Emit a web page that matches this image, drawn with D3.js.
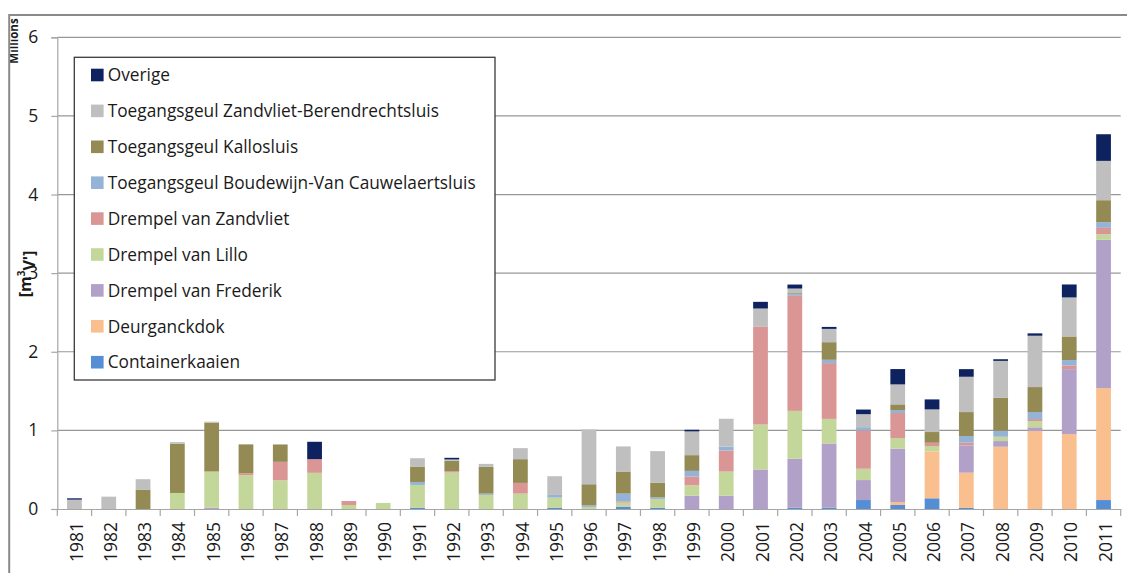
<!DOCTYPE html>
<html>
<head>
<meta charset="utf-8">
<script src="https://cdn.jsdelivr.net/npm/d3@7"></script>
<style>
  html, body { margin: 0; padding: 0; background: #fff; }
  svg { display: block; }
  text { font-family: "Open Sans", "Noto Sans", sans-serif; fill: #1a1a1a; }
</style>
</head>
<body>
<svg id="chart" width="1127" height="573"></svg>
<script>
// ---- data (millions m³ per year) ----
const years = ["1981","1982","1983","1984","1985","1986","1987","1988","1989","1990",
               "1991","1992","1993","1994","1995","1996","1997","1998","1999","2000",
               "2001","2002","2003","2004","2005","2006","2007","2008","2009","2010","2011"];

const containerkaaien = [0,0,0,0,0,0,0,0,0,0, 0.017,0,0,0,0.017,0,0.03,0.017,0,0, 0,0.017,0.017,0.114,0.051,0.136,0.017,0,0,0, 0.114];
const deurganckdok    = [0,0,0,0,0,0,0,0,0,0, 0,0,0,0,0,0,0,0,0,0, 0,0,0,0,0.038,0.597,0.445,0.792,0.992,0.953, 1.424];
const frederik        = [0,0,0,0,0.017,0,0,0,0,0, 0,0,0,0,0,0,0,0,0.17,0.17, 0.503,0.622,0.816,0.254,0.678,0,0.347,0.072,0.047,0.826, 1.886];
const lillo           = [0,0,0,0.204,0.46,0.43,0.366,0.46,0.051,0.077, 0.289,0.464,0.179,0.196,0.128,0.026,0.051,0.111,0.132,0.306, 0.571,0.609,0.313,0.144,0.136,0.068,0,0.055,0.08,0, 0.072];
const zandvliet       = [0,0,0,0,0,0.026,0.234,0.174,0.051,0, 0,0.017,0,0.136,0,0,0.017,0,0.111,0.268, 1.243,1.463,0.71,0.487,0.318,0.042,0.034,0,0.025,0.047, 0.08];
const boudewijn       = [0,0,0,0,0,0,0,0,0,0, 0.038,0,0.017,0,0.034,0.021,0.098,0.021,0.072,0.051, 0,0.021,0.042,0.042,0.038,0,0.085,0.076,0.089,0.068, 0.072];
const kallosluis      = [0,0,0.247,0.626,0.621,0.366,0.221,0,0,0, 0.191,0.132,0.34,0.302,0,0.268,0.281,0.183,0.2,0, 0,0.013,0.224,0,0.072,0.136,0.305,0.419,0.318,0.301, 0.28];
const zandvlietBerendrecht = [0.119,0.157,0.132,0.021,0.013,0,0,0,0,0, 0.111,0.017,0.038,0.14,0.238,0.698,0.319,0.404,0.302,0.353, 0.233,0.059,0.169,0.165,0.254,0.288,0.449,0.47,0.653,0.496, 0.5];
const overige         = [0.017,0,0,0,0,0,0,0.221,0,0, 0,0.021,0,0,0,0,0,0,0.021,0, 0.085,0.051,0.025,0.059,0.195,0.127,0.097,0.021,0.03,0.165, 0.339];

const seriesNames = ["Containerkaaien","Deurganckdok","Drempel van Frederik","Drempel van Lillo",
  "Drempel van Zandvliet","Toegangsgeul Boudewijn-Van Cauwelaertsluis","Toegangsgeul Kallosluis",
  "Toegangsgeul Zandvliet-Berendrechtsluis","Overige"];
const seriesValues = [containerkaaien, deurganckdok, frederik, lillo, zandvliet, boudewijn, kallosluis, zandvlietBerendrecht, overige];
const seriesColors = ["#558ed5","#fabf8f","#b1a0c7","#c4d79b","#da9694","#95b3d7","#948a54","#bfbfbf","#0f2260"];
const yTicks = [0,1,2,3,4,5,6];

(function () {
// ---- build table ----
const table = years.map((yr, i) => {
  const row = { year: yr };
  seriesNames.forEach((n, s) => row[n] = seriesValues[s][i]);
  return row;
});
const stacked = d3.stack().keys(seriesNames)(table);

const svg = d3.select("#chart");
const pL = 57.3, pR = 1120.7, pT = 37.3, pB = 509;

const x = d3.scaleBand().domain(years).range([pL, pR]).paddingInner(0).paddingOuter(0);
const y = d3.scaleLinear().domain([0, 6]).range([pB, pT]);
const bw = x.bandwidth() * 0.43;

// outer frame
svg.append("rect").attr("x", 9.2).attr("y", 15).attr("width", 1300).attr("height", 800)
  .attr("fill", "none").attr("stroke", "#8a8a8a").attr("stroke-width", 2);

// gridlines
svg.append("g").selectAll("line").data(yTicks.filter(d => d > 0)).join("line")
  .attr("x1", pL).attr("x2", pR)
  .attr("y1", d => y(d)).attr("y2", d => y(d))
  .attr("stroke", "#979797").attr("stroke-width", 1.2);

// y axis
const yAxis = svg.append("g").attr("transform", `translate(${pL},0)`)
  .call(d3.axisLeft(y).tickValues(yTicks).tickSize(6).tickPadding(13).tickFormat(d3.format("d")));
yAxis.select(".domain").attr("stroke", "#a6a6a6").attr("stroke-width", 1.2);
yAxis.selectAll(".tick line").attr("stroke", "#a6a6a6").attr("stroke-width", 1.2);
yAxis.selectAll("text").attr("font-size", 17.5).attr("font-family", "Open Sans").attr("fill", "#1a1a1a");

// bars
svg.append("g").selectAll("g").data(stacked).join("g")
  .attr("fill", (d, i) => seriesColors[i])
  .selectAll("rect").data(d => d).join("rect")
  .attr("x", d => x(d.data.year) + (x.bandwidth() - bw) / 2)
  .attr("width", bw)
  .attr("y", d => y(d[1]))
  .attr("height", d => Math.max(0, y(d[0]) - y(d[1])));

// x axis
const xAxis = svg.append("g").attr("transform", `translate(0,${pB})`)
  .call(d3.axisBottom(x).tickSize(0).tickPadding(0));
xAxis.select(".domain").attr("stroke", "#a6a6a6").attr("stroke-width", 1.2);
xAxis.selectAll(".tick text")
  .attr("transform", "rotate(-90)")
  .attr("text-anchor", "end")
  .attr("x", -13).attr("y", 2).attr("dy", "0.35em")
  .attr("font-size", 17.5).attr("font-family", "Open Sans").attr("fill", "#1a1a1a");
// boundary tick marks
const bounds = years.map(yr => x(yr)).concat([x(years[years.length - 1]) + x.bandwidth()]);
svg.append("g").selectAll("line").data(bounds).join("line")
  .attr("x1", d => d).attr("x2", d => d)
  .attr("y1", pB).attr("y2", pB + 7)
  .attr("stroke", "#a6a6a6").attr("stroke-width", 1.2);

// axis titles
svg.append("defs").append("clipPath").attr("id", "clipL")
  .append("rect").attr("x", 10.2).attr("y", 16).attr("width", 100).attr("height", 200);
svg.append("g").attr("clip-path", "url(#clipL)")
  .append("text").attr("transform", "translate(18,41) rotate(-90)")
  .attr("text-anchor", "middle").attr("font-size", 11.5).attr("font-weight", "bold")
  .attr("fill", "#111").text("Millions");

const yl = svg.append("text").attr("transform", "translate(31,274) rotate(-90)")
  .attr("text-anchor", "middle").attr("font-size", 16).attr("font-weight", "bold").attr("fill", "#111");
yl.append("tspan").text("[m");
yl.append("tspan").attr("font-size", 10).attr("dy", "-0.6em").text("3");
yl.append("tspan").attr("dy", "0.6em").text("V']");

// legend
const legendOrder = seriesNames.slice().reverse();
const legendColors = seriesColors.slice().reverse();
const lg = svg.append("g");
lg.append("rect").attr("x", 74.3).attr("y", 57.3).attr("width", 420.7).attr("height", 322.7)
  .attr("fill", "#fff").attr("stroke", "#3a3a3a").attr("stroke-width", 1.3);
const items = lg.selectAll("g.item").data(legendOrder).join("g").attr("class", "item")
  .attr("transform", (d, i) => `translate(0,${75 + i * 35.9})`);
items.append("rect").attr("x", 91).attr("y", -6.3).attr("width", 12.6).attr("height", 12.6)
  .attr("fill", (d, i) => legendColors[i]);
items.append("text").attr("x", 107.7).attr("dy", "0.36em")
  .attr("font-size", 17.3).attr("fill", "#1a1a1a").text(d => d);
})();
</script>
</body>
</html>
